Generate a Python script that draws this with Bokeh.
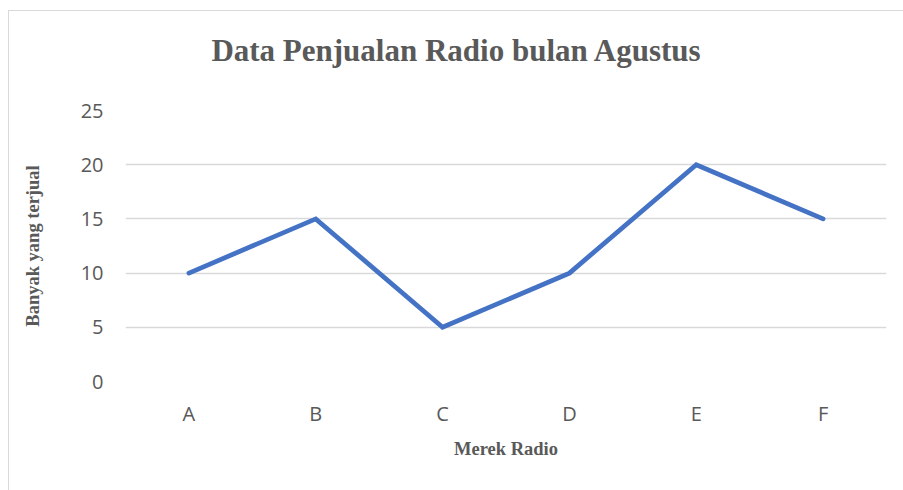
from bokeh.plotting import figure
from bokeh.models import FactorRange, Range1d, FixedTicker, Div
from bokeh.layouts import column
from bokeh.embed import file_html
from bokeh.resources import INLINE

title_text = "Data Penjualan Radio bulan Agustus"
brands = ["A", "B", "C", "D", "E", "F"]
sold = [10, 15, 5, 10, 20, 15]
y_ticks = [0, 5, 10, 15, 20, 25]

head = Div(text=('<div style="font-family:\'Liberation Serif\';font-size:31px;font-weight:bold;'
                 'color:#595959;text-align:center;line-height:37px;padding-top:21px;'
                 'padding-left:24px;width:870px;">' + title_text + '</div>'),
           width=894, height=79, margin=0)

p = figure(width=894, height=400, output_backend="svg", toolbar_location=None,
           x_range=FactorRange(factors=brands), y_range=Range1d(0, 25),
           min_border_left=116, min_border_right=17, min_border_top=20, min_border_bottom=109)
p.title.text = ""

p.line(x=brands, y=sold, line_color="#4472C4", line_width=4.75, line_join="miter", line_cap="round")

p.outline_line_color = None
p.background_fill_color = "white"
p.border_fill_color = "white"
p.xgrid.grid_line_color = None
p.ygrid.grid_line_color = "#d9d9d9"
p.ygrid.grid_line_width = 1.5
p.yaxis.ticker = FixedTicker(ticks=y_ticks)

for ax in (p.xaxis[0], p.yaxis[0]):
    ax.axis_line_color = None
    ax.major_tick_line_color = None
    ax.minor_tick_line_color = None
    ax.major_tick_out = 0
    ax.major_tick_in = 0
    ax.major_label_text_font = "Open Sans"
    ax.major_label_text_font_size = "20px"
    ax.major_label_text_color = "#595959"
    ax.axis_label_text_font = "Liberation Serif"
    ax.axis_label_text_font_size = "18.5px"
    ax.axis_label_text_font_style = "bold"
    ax.axis_label_text_color = "#595959"

p.xaxis.axis_label = "Merek Radio"
p.yaxis.axis_label = "Banyak yang terjual"
p.yaxis.major_label_standoff = 22
p.yaxis.axis_label_standoff = 35
p.xaxis.major_label_standoff = 18
p.xaxis.axis_label_standoff = 9

page = column(head, p, spacing=0,
              styles={"border-left": "1px solid #d9d9d9", "border-top": "1px solid #d9d9d9",
                      "margin-left": "8px", "margin-top": "10px", "background": "white"})

open("out.html", "w").write(file_html(page, INLINE))
